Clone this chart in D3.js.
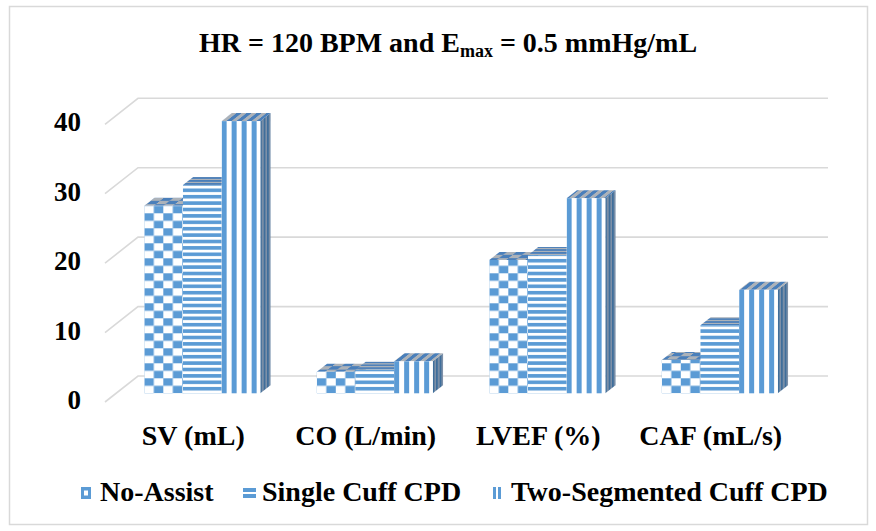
<!DOCTYPE html>
<html>
<head>
<meta charset="utf-8">
<script src="https://cdn.jsdelivr.net/npm/d3@7"></script>
<style>
  html, body { margin: 0; padding: 0; background: #fff; }
  svg { display: block; }
  .lbl { font-family: "Liberation Serif", "DejaVu Serif", "Noto Serif", serif; font-weight: 700; }
</style>
</head>
<body>
<script>
// Haemodynamic outputs at HR = 120 BPM, Emax = 0.5 mmHg/mL
const categories = ["SV (mL)", "CO (L/min)", "LVEF (%)", "CAF (mL/s)"];
const seriesNames = ["No-Assist", "Single Cuff CPD", "Two-Segmented Cuff CPD"];
const noAssist = [27, 3.1, 19.2, 4.8];
const singleCuff = [30, 3.4, 19.9, 9.8];
const twoSegmented = [39.2, 4.6, 28.1, 14.9];
const yTicks = [0, 10, 20, 30, 40];

const seriesValues = [noAssist, singleCuff, twoSegmented];
const seriesKinds = ["checker", "hstripe", "vstripe"];

const W = 876, H = 531;
const svg = d3.select("body").append("svg").attr("width", W).attr("height", H);
const defs = svg.append("defs");

// Back-wall scales; the floor recedes by a fixed oblique depth vector
const x = d3.scaleBand().domain(categories).range([138, 828]);
const y = d3.scaleLinear().domain([0, 40]).range([376, 98.3]);
const depth = { dx: -33, dy: 26 };               // back wall -> front edge of floor
const proj = (xb, yb, z) => [xb + depth.dx * z, yb + depth.dy * z];
const zFront = 0.665, zBack = 0.355;             // bar front / back planes
const ddx = depth.dx * (zBack - zFront), ddy = depth.dy * (zBack - zFront);
const groupWidth = 116;
const xs = d3.scaleBand().domain(seriesNames).range([-groupWidth / 2, groupWidth / 2]);

// Fill patterns for each face of the bars
const faceColors = {
  front: { fg: "#5B9BD5", bg: "#FFFFFF" },
  top:   { fg: "#4A7FBA", bg: "#ACB2B9" },
  side:  { fg: "#3F6E9B", bg: "#7D90A8" }
};
const faceTransforms = {
  front: null,
  top: "matrix(1,0,-0.57,0.45,0,0)",
  side: "matrix(0.35,-0.276,0,1,0,0)"
};
function makePattern(kind, face) {
  const c = faceColors[face];
  const id = `pat-${kind}-${face}`;
  let pw, ph;
  if (kind === "checker") { pw = 19; ph = 15; }
  else if (kind === "hstripe") { pw = 10; ph = 6.4; }
  else { pw = 10; ph = 10; }
  const p = defs.append("pattern").attr("id", id)
    .attr("patternUnits", "userSpaceOnUse")
    .attr("width", pw).attr("height", ph);
  if (faceTransforms[face]) p.attr("patternTransform", faceTransforms[face]);
  p.append("rect").attr("width", pw).attr("height", ph).attr("fill", c.bg);
  if (kind === "checker") {
    p.append("rect").attr("x", 0).attr("y", 0).attr("width", pw / 2).attr("height", ph / 2).attr("fill", c.fg);
    p.append("rect").attr("x", pw / 2).attr("y", ph / 2).attr("width", pw / 2).attr("height", ph / 2).attr("fill", c.fg);
  } else if (kind === "hstripe") {
    p.append("rect").attr("x", 0).attr("y", 0).attr("width", pw).attr("height", 3.6).attr("fill", c.fg);
  } else {
    p.append("rect").attr("x", 0).attr("y", 0).attr("width", 5).attr("height", ph).attr("fill", c.fg);
  }
  return id;
}
seriesKinds.forEach(k => ["front", "top", "side"].forEach(f => makePattern(k, f)));

// Chart frame
svg.append("rect").attr("x", 9.5).attr("y", 6.5).attr("width", 858).attr("height", 518)
  .attr("fill", "none").attr("stroke", "#D9D9D9").attr("stroke-width", 1.5);

// Title
const title = svg.append("text").attr("class", "lbl").attr("x", 448).attr("y", 52)
  .attr("text-anchor", "middle").style("font-size", "28px");
title.append("tspan").text("HR = 120 BPM and E");
title.append("tspan").attr("dy", 5).style("font-size", "18px").text("max");
title.append("tspan").attr("dy", -5).text(" = 0.5 mmHg/mL");

// Gridlines: along the floor edge, then across the back wall
const [x0, x1] = x.range();
svg.append("g").selectAll("path").data(yTicks).join("path")
  .attr("d", t => {
    const f = proj(x0, y(t), 1);
    return `M${f[0]},${f[1]}L${x0},${y(t)}L${x1},${y(t)}`;
  })
  .attr("fill", "none").attr("stroke", "#D9D9D9").attr("stroke-width", 1.6);

// Value axis labels on the front plane
svg.append("g").selectAll("text").data(yTicks).join("text")
  .attr("class", "lbl")
  .attr("x", 81).attr("y", t => proj(x0, y(t), 1)[1] + 7)
  .attr("text-anchor", "end").style("font-size", "27px")
  .text(t => t);

// Bars
const bars = [];
categories.forEach((c, ci) => {
  seriesNames.forEach((s, si) => {
    bars.push({ c, s, si, v: seriesValues[si][ci] });
  });
});
const barW = xs.bandwidth();
const barG = svg.append("g").selectAll("g").data(bars).join("g")
  .attr("transform", d => {
    const xb = x(d.c) + x.bandwidth() / 2 + xs(d.s);
    const p = proj(xb, y(0), zFront);
    return `translate(${p[0]},${p[1]})`;
  });
barG.append("path")
  .attr("d", d => {
    const h = y(0) - y(d.v);
    return `M${barW},${-h}L${barW},0L${barW + ddx},${ddy}L${barW + ddx},${-h + ddy}Z`;
  })
  .attr("fill", d => `url(#pat-${seriesKinds[d.si]}-side)`);
barG.append("path")
  .attr("d", d => {
    const h = y(0) - y(d.v);
    return `M0,${-h}L${barW},${-h}L${barW + ddx},${-h + ddy}L${ddx},${-h + ddy}Z`;
  })
  .attr("fill", d => `url(#pat-${seriesKinds[d.si]}-top)`);
barG.append("rect")
  .attr("x", 0).attr("y", d => -(y(0) - y(d.v)))
  .attr("width", barW).attr("height", d => y(0) - y(d.v))
  .attr("fill", d => `url(#pat-${seriesKinds[d.si]}-front)`);

// Category labels
svg.append("g").selectAll("text").data(categories).join("text")
  .attr("class", "lbl")
  .attr("x", c => proj(x(c) + x.bandwidth() / 2, 0, 1)[0] + 2)
  .attr("y", 445).attr("text-anchor", "middle").style("font-size", "28px")
  .text(c => c);

// Legend
const legendX = [
  { marker: 81, text: 100 },
  { marker: 243, text: 262 },
  { marker: 493, text: 511 }
];
const lg = svg.append("g").selectAll("g").data(seriesNames).join("g");
lg.each(function (s, i) {
  const g = d3.select(this);
  const mx = legendX[i].marker, my = 487;
  if (i === 0) {
    g.append("rect").attr("x", mx).attr("y", my).attr("width", 10).attr("height", 12).attr("fill", "#5B9BD5");
    g.append("rect").attr("x", mx + 3).attr("y", my + 3.5).attr("width", 4).attr("height", 5).attr("fill", "#fff");
  } else if (i === 1) {
    g.append("rect").attr("x", mx).attr("y", my + 1).attr("width", 13).attr("height", 4).attr("fill", "#5B9BD5");
    g.append("rect").attr("x", mx).attr("y", my + 7).attr("width", 13).attr("height", 4).attr("fill", "#5B9BD5");
  } else {
    g.append("rect").attr("x", mx).attr("y", my).attr("width", 3).attr("height", 12).attr("fill", "#5B9BD5");
    g.append("rect").attr("x", mx + 5).attr("y", my).attr("width", 3).attr("height", 12).attr("fill", "#5B9BD5");
  }
  g.append("text").attr("class", "lbl").attr("x", legendX[i].text).attr("y", 501)
    .style("font-size", "28px").text(s);
});
</script>
</body>
</html>
